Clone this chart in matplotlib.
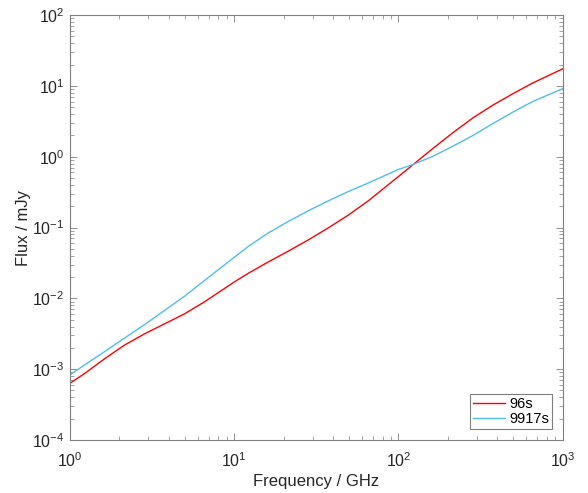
import matplotlib
matplotlib.use("Agg")
import matplotlib.pyplot as plt
from matplotlib.ticker import NullFormatter, FixedLocator, LogFormatterSciNotation

plt.rcParams['font.family'] = ['Liberation Sans', 'DejaVu Sans']

# frequency in GHz, flux in mJy
freq = [1, 1.23, 1.63, 2.15, 2.85, 3.77, 4.98, 6.58, 10, 12.3, 16.3, 21.5,
        28.5, 37.7, 49.8, 65.8, 100, 123, 163, 215, 285, 377, 498, 658, 1000]
flux_96s = [6.31e-4, 8.71e-4, 1.41e-3, 2.19e-3, 3.16e-3, 4.37e-3, 6.03e-3,
            8.91e-3, 0.0170, 0.0229, 0.0331, 0.0468, 0.0676, 0.100, 0.151,
            0.240, 0.525, 0.776, 1.32, 2.19, 3.55, 5.37, 7.76, 11.0, 17.4]
flux_9917s = [8.32e-4, 1.15e-3, 1.78e-3, 2.75e-3, 4.27e-3, 6.76e-3, 0.0107,
              0.0178, 0.0380, 0.0550, 0.0851, 0.123, 0.174, 0.240, 0.324,
              0.427, 0.661, 0.776, 1.02, 1.41, 2.00, 2.95, 4.27, 6.03, 9.12]
labels = ["96s", "9917s"]
xticks = [1, 10, 100, 1000]
yticks = [1e-4, 1e-3, 1e-2, 1e-1, 1, 10, 100]

fig = plt.figure(figsize=(5.88, 4.93), dpi=100)
ax = fig.add_axes([0.119, 0.1075, 0.838, 0.862])

ax.loglog(freq, flux_96s, color="#ff0000", lw=1.0, label=labels[0])
ax.loglog(freq, flux_9917s, color="#4dbeee", lw=1.0, label=labels[1])

ax.set_xlim(1, 1000)
ax.set_ylim(1e-4, 1e2)
ax.xaxis.set_major_locator(FixedLocator(xticks))
ax.yaxis.set_major_locator(FixedLocator(yticks))
ax.xaxis.set_major_formatter(LogFormatterSciNotation())
ax.yaxis.set_major_formatter(LogFormatterSciNotation())
ax.xaxis.set_minor_formatter(NullFormatter())
ax.yaxis.set_minor_formatter(NullFormatter())
ax.set_xlabel("Frequency / GHz", fontsize=12, color="#262626", labelpad=3)
ax.set_ylabel("Flux / mJy", fontsize=12, color="#262626", labelpad=1)

for s in ax.spines.values():
    s.set_color("#7f7f7f")
    s.set_linewidth(0.8)
ax.tick_params(which="both", direction="in", top=True, right=True,
               colors="#7f7f7f", labelcolor="#262626", labelsize=11.5)
ax.tick_params(which="major", length=5, width=0.6)
ax.tick_params(which="minor", length=3, width=0.5)
ax.tick_params(axis="x", which="major", pad=8)
ax.tick_params(axis="y", which="major", pad=4)

leg = ax.legend(loc="lower right", fontsize=10.5, fancybox=False,
                framealpha=1, edgecolor="#7f7f7f", handlelength=2.2,
                handletextpad=0.3, borderaxespad=0.75, borderpad=0.2,
                labelspacing=0.1)
leg.get_frame().set_linewidth(0.8)

fig.savefig("out.png", dpi=100)
